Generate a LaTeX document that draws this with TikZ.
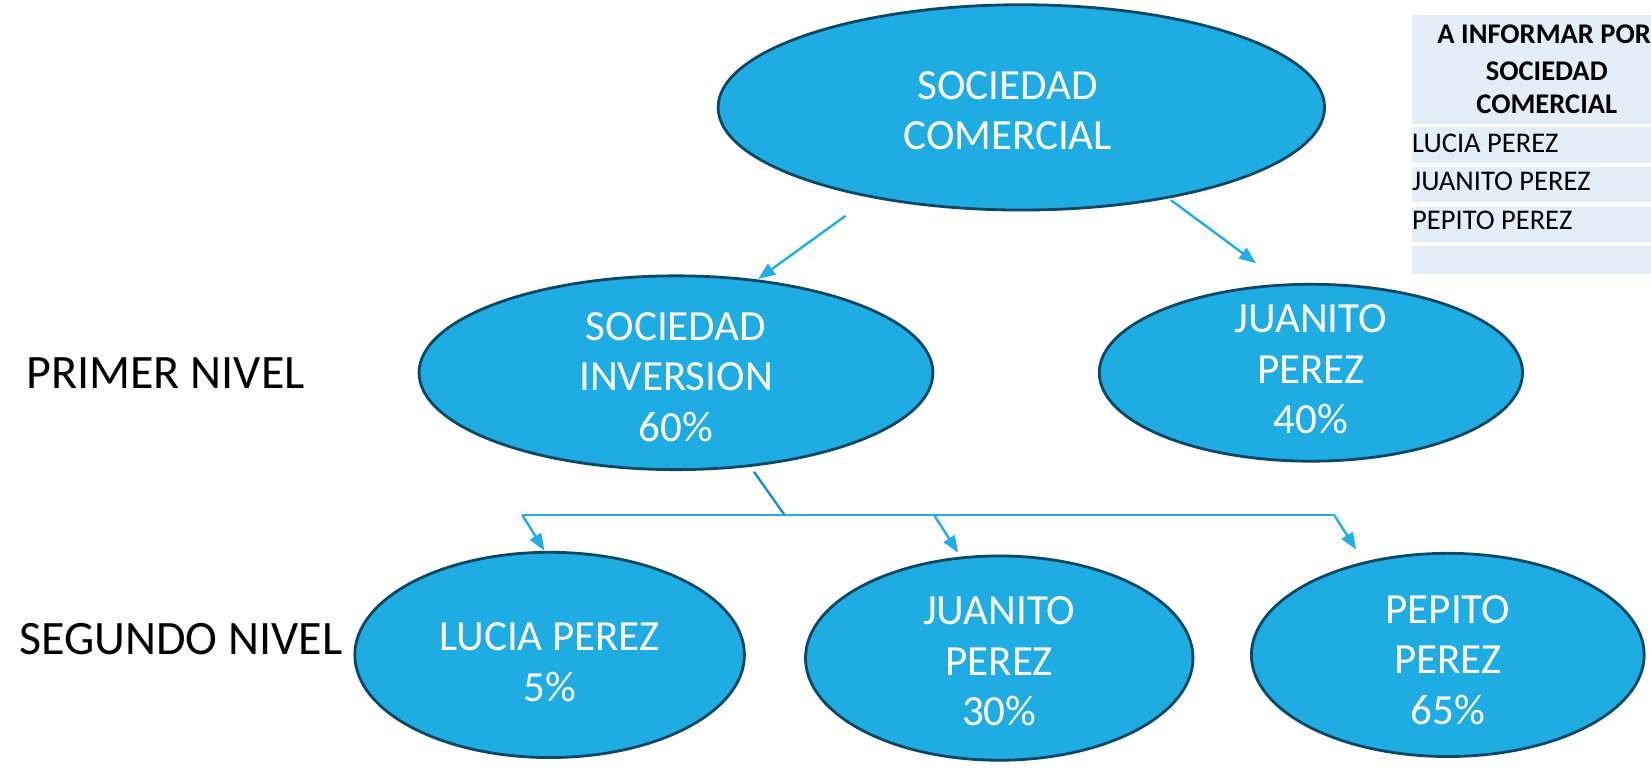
\documentclass[tikz,border=0pt]{standalone}
\usepackage{fontspec}
\setmainfont{Carlito}
\usetikzlibrary{shapes.geometric,arrows.meta}
\definecolor{fillb}{RGB}{31,172,227}
\definecolor{edgeb}{RGB}{12,72,100}
\definecolor{lineb}{RGB}{34,174,228}
\definecolor{lined}{RGB}{30,140,205}
\definecolor{tabb}{RGB}{226,238,248}
\tikzset{
  ell/.style={ellipse, draw=edgeb, line width=2.8pt, fill=fillb, inner sep=0pt},
  etxt/.style={text=white, inner sep=0pt, align=center, font=\fontsize{43}{50.5}\selectfont},
  lvl/.style={anchor=base west, inner sep=0pt, text=black, font=\fontsize{48}{56}\selectfont},
  conn/.style={draw=lineb, line width=2.4pt},
  arr/.style={conn, -{Triangle[length=17pt,width=13pt]}},
  cell/.style={fill=tabb, draw=none},
  tabtxt/.style={inner sep=0pt, text=black, font=\fontsize{28.5}{35}\selectfont},
  tabhd/.style={inner sep=0pt, text=black, font=\fontsize{28.5}{35}\selectfont\bfseries},
}
\begin{document}
\begin{tikzpicture}[x=1.053pt,y=-1.053pt]
\useasboundingbox (0,0) rectangle (1568,732.2);
\clip (0,0) rectangle (1568,732.2);
\fill[white] (0,0) rectangle (1568,732.2);

% ellipses
\node[ell, minimum width=606.5pt, minimum height=205.3pt] (top) at (970,102) {};
\node[ell, minimum width=513.9pt, minimum height=193.8pt] (inv) at (642,354) {};
\node[ell, minimum width=423.3pt, minimum height=176.9pt] (jp40) at (1245,354) {};
\node[ell, minimum width=389.6pt, minimum height=205.3pt] (lucia) at (522,622) {};
\node[ell, minimum width=387.5pt, minimum height=204.3pt] (jp30) at (949,625) {};
\node[ell, minimum width=392.8pt, minimum height=203.2pt] (pepito) at (1375,622) {};

% ellipse texts
\node[etxt] (topt) at (957,105) {SOCIEDAD\\COMERCIAL};
\node[etxt] (invt) at (642,358) {SOCIEDAD\\INVERSION\\60\%};
\node[etxt] (jp40t) at (1245,351) {JUANITO\\PEREZ\\40\%};
\node[etxt] (luciat) at (522,629) {LUCIA PEREZ\\5\%};
\node[etxt] (jp30t) at (949,628) {JUANITO\\PEREZ\\30\%};
\node[etxt] (pepitot) at (1375,627) {PEPITO\\PEREZ\\65\%};

% level labels
\node[lvl] (primer) at (25,369) {PRIMER NIVEL};
\node[lvl] (segundo) at (18,622) {SEGUNDO NIVEL};

% connector end points
\coordinate (a1s) at (803,205);
\coordinate (a1e) at (720,265);
\coordinate (a2s) at (1112,190);
\coordinate (a2e) at (1193,250);
\coordinate (ds) at (716,448);
\coordinate (dj) at (745,489);
\coordinate (bl) at (496,489);
\coordinate (bm) at (887,489);
\coordinate (br) at (1267,489);
\coordinate (e1) at (517,523);
\coordinate (e2) at (910,525);
\coordinate (e3) at (1288,522);

\draw[arr] (a1s) -- (a1e);
\draw[arr] (a2s) -- (a2e);
\draw[conn, draw=lined] (ds) -- (dj);
\draw[conn] (bl) -- (br);
\draw[arr] (bl) -- (e1);
\draw[arr] (bm) -- (e2);
\draw[arr] (br) -- (e3);

% table
\fill[cell] (1341,14) rectangle (1620,118);
\fill[cell] (1341,121) rectangle (1620,155);
\fill[cell] (1341,159) rectangle (1620,192);
\fill[cell] (1341,197) rectangle (1620,230);
\fill[cell] (1341,234) rectangle (1620,260);
\node[tabhd, anchor=base west] (h1) at (1365,41) {A INFORMAR POR};
\node[tabhd, anchor=base] (h2) at (1469,76) {SOCIEDAD};
\node[tabhd, anchor=base] (h3) at (1469,108) {COMERCIAL};
\node[tabtxt, anchor=base west] (r1) at (1341,145) {LUCIA PEREZ};
\node[tabtxt, anchor=base west] (r2) at (1341,181) {JUANITO PEREZ};
\node[tabtxt, anchor=base west] (r3) at (1341,218) {PEPITO PEREZ};
\end{tikzpicture}
\end{document}
